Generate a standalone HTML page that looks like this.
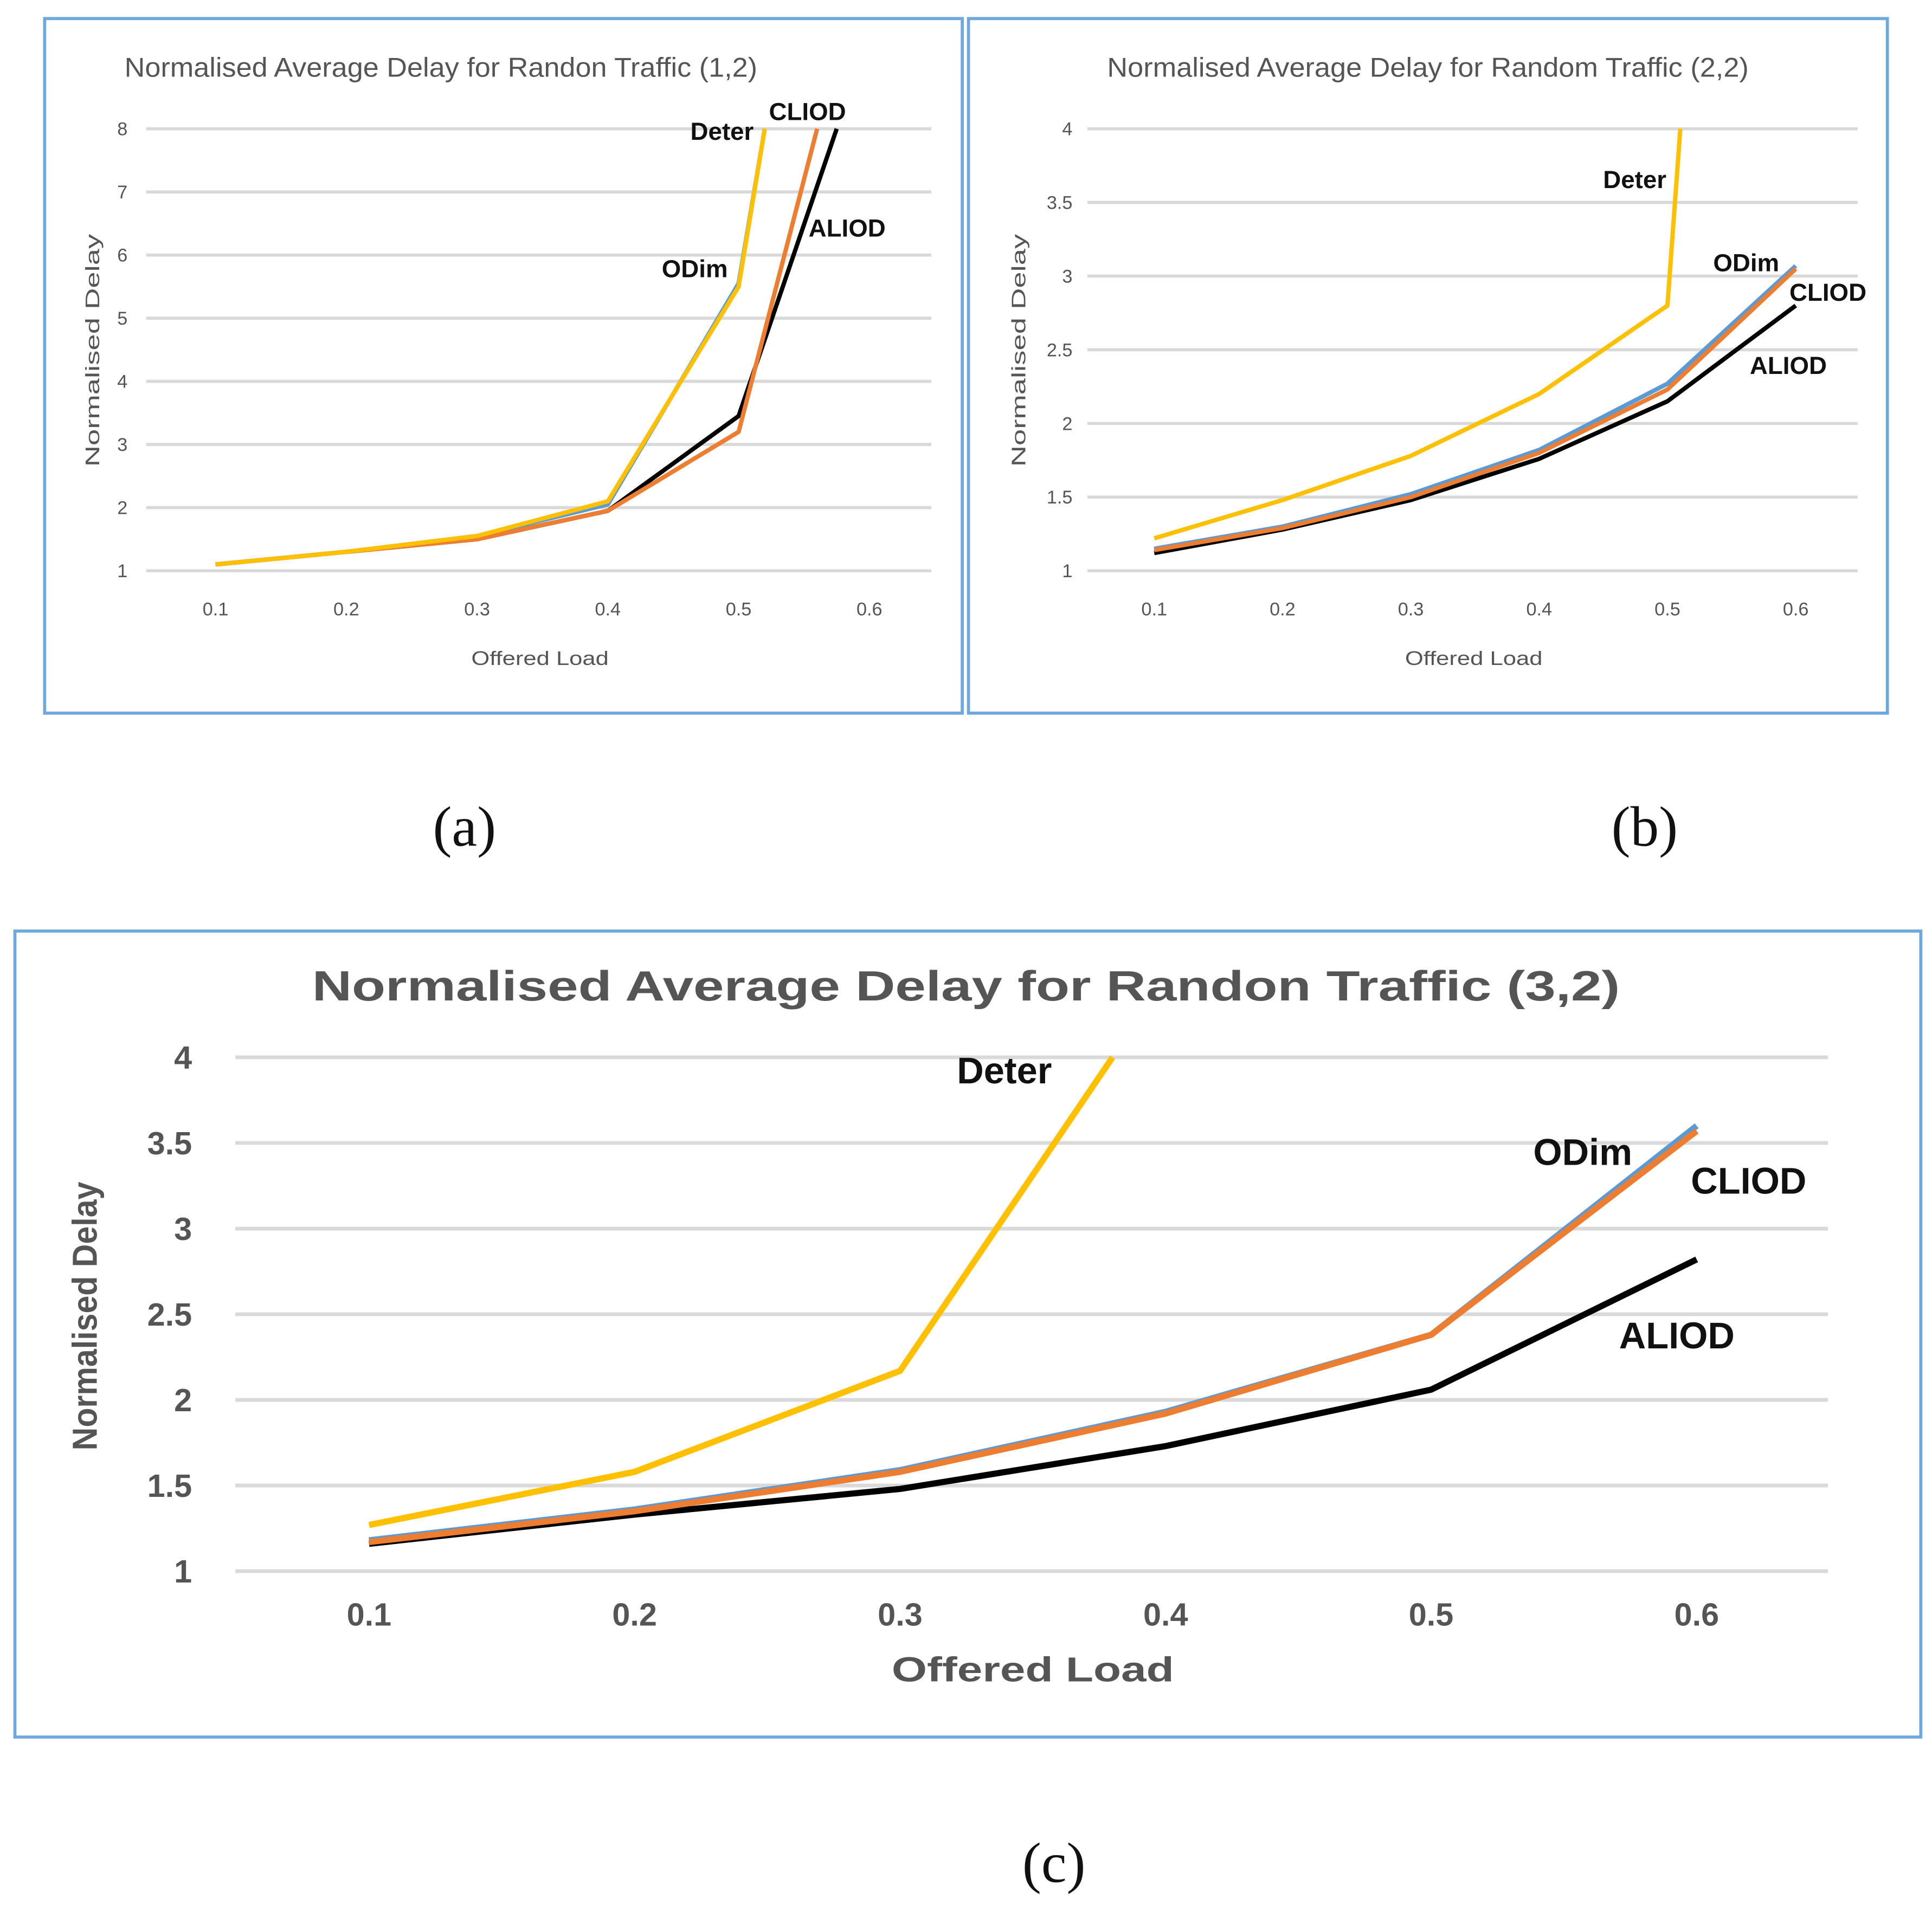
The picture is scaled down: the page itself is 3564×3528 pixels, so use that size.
<!DOCTYPE html>
<html><head><meta charset="utf-8"><style>
html,body{margin:0;padding:0;background:#fff;}
svg{display:block;}
text{font-family:"Liberation Sans Narrow","Liberation Sans",sans-serif;}
.cap{font-family:"Liberation Serif",serif;}
</style></head><body>
<svg id="fig" width="3564" height="3528" viewBox="0 0 1560 1544.3" xmlns="http://www.w3.org/2000/svg">
<rect x="0" y="0" width="1560" height="1545" fill="#fff"/>
<text class="cap" x="375" y="683" font-size="46" text-anchor="middle" fill="#111">(a)</text>
<text class="cap" x="1328" y="683" font-size="46" text-anchor="middle" fill="#111">(b)</text>
<text class="cap" x="851" y="1520" font-size="46" text-anchor="middle" fill="#111">(c)</text>
</svg>
<script>
// ---- data ----
const seriesNames = ['Deter','ODim','CLIOD','ALIOD'];
const seriesColors = {Deter:'#FFC000',ODim:'#5B9BD5',CLIOD:'#ED7D31',ALIOD:'#000000'};
// Panel A
const aXTicks = [0.1,0.2,0.3,0.4,0.5,0.6];
const aYTicks = [1,2,3,4,5,6,7,8];
const aDeterX = [0.1,0.2,0.3,0.4,0.5,0.52];
const aDeterY = [1.1,1.3,1.55,2.1,5.5,8];
const aODimX = [0.1,0.2,0.3,0.4,0.5,0.52];
const aODimY = [1.1,1.3,1.55,2.05,5.55,8];
const aCLIODX = [0.1,0.2,0.3,0.4,0.5,0.56];
const aCLIODY = [1.1,1.3,1.5,1.95,3.2,8];
const aALIODX = [0.1,0.2,0.3,0.4,0.5,0.575];
const aALIODY = [1.1,1.3,1.5,1.95,3.45,8];
// Panel B
const bXTicks = [0.1,0.2,0.3,0.4,0.5,0.6];
const bYTicks = [1,1.5,2,2.5,3,3.5,4];
const bDeterX = [0.1,0.2,0.3,0.4,0.5,0.51];
const bDeterY = [1.22,1.48,1.78,2.2,2.8,4];
const bODimX = [0.1,0.2,0.3,0.4,0.5,0.6];
const bODimY = [1.15,1.3,1.52,1.82,2.27,3.07];
const bCLIODX = [0.1,0.2,0.3,0.4,0.5,0.6];
const bCLIODY = [1.14,1.29,1.5,1.8,2.23,3.05];
const bALIODX = [0.1,0.2,0.3,0.4,0.5,0.6];
const bALIODY = [1.12,1.28,1.48,1.76,2.15,2.8];
// Panel C
const cXTicks = [0.1,0.2,0.3,0.4,0.5,0.6];
const cYTicks = [1,1.5,2,2.5,3,3.5,4];
const cDeterX = [0.1,0.2,0.3,0.38];
const cDeterY = [1.27,1.58,2.17,4];
const cODimX = [0.1,0.2,0.3,0.4,0.5,0.6];
const cODimY = [1.18,1.36,1.59,1.93,2.38,3.6];
const cCLIODX = [0.1,0.2,0.3,0.4,0.5,0.6];
const cCLIODY = [1.17,1.35,1.58,1.92,2.38,3.57];
const cALIODX = [0.1,0.2,0.3,0.4,0.5,0.6];
const cALIODY = [1.16,1.33,1.48,1.73,2.06,2.82];

const NS='http://www.w3.org/2000/svg';
const svg=document.getElementById('fig');
function mk(tag,attrs,parent){const e=document.createElementNS(NS,tag);for(const k in attrs)e.setAttribute(k,attrs[k]);(parent||svg).appendChild(e);return e;}
function fmt(v){return String(v);}

function panel(id,L){
  const g=mk('g',{});
  
  
  const box=mk('rect',{x:L.bx,y:L.by,width:L.bw,height:L.bh,fill:'#fff',stroke:'#6FA8DC','stroke-width':2.5},g);
  
  
  const x0=L.xTicks[0], x1=L.xTicks[L.xTicks.length-1];
  const y0=L.yTicks[0], y1=L.yTicks[L.yTicks.length-1];
  const sx=v=>L.px0+(v-x0)/(x1-x0)*(L.px1-L.px0);
  const sy=v=>L.py0+(v-y0)/(y1-y0)*(L.py1-L.py0);
  L.yTicks.forEach(t=>{
    const ln=mk('line',{x1:L.gx0,x2:L.gx1,y1:sy(t),y2:sy(t),stroke:'#d9d9d9','stroke-width':L.gw},g);
    
    
    const tx=mk('text',{x:L.ylx,y:sy(t)+L.fs*0.35,'font-size':L.fs,'text-anchor':'end',fill:'#555','font-weight':L.fw},g);
    tx.textContent=fmt(t);
    
    
  });
  L.xTicks.forEach(t=>{
    const tx=mk('text',{x:sx(t),y:L.xly,'font-size':L.fs,'text-anchor':'middle',fill:'#555','font-weight':L.fw},g);
    tx.textContent=fmt(t);
    
    
  });
  const title=mk('text',{x:L.tx,y:L.ty,'font-size':L.tfs,'text-anchor':'middle',fill:'#555','font-weight':L.fw,textLength:L.tlen,lengthAdjust:'spacingAndGlyphs'},g);
  title.textContent=L.title;
  
  
  const xt=mk('text',{x:L.xtx,y:L.xty,'font-size':L.afs,'text-anchor':'middle',fill:'#555','font-weight':L.fw,textLength:L.xlen,lengthAdjust:'spacingAndGlyphs'},g);
  xt.textContent='Offered Load';
  
  
  const yt=mk('text',{x:0,y:0,'font-size':L.afs,'text-anchor':'middle',fill:'#555','font-weight':L.fw,textLength:L.ylen,lengthAdjust:'spacingAndGlyphs',transform:'translate('+L.ytx+','+L.yty+') rotate(-90)'},g);
  yt.textContent='Normalised Delay';
  
  
  ['ALIOD','ODim','CLIOD','Deter'].forEach(n=>{
    const xs=L.data[n][0], ys=L.data[n][1];
    const pts=xs.map((v,i)=>sx(v).toFixed(1)+','+sy(ys[i]).toFixed(1)).join(' ');
    const pl=mk('polyline',{points:pts,fill:'none',stroke:seriesColors[n],'stroke-width':L.lw,'stroke-linejoin':'round'},g);
    
    
  });
  L.labels.forEach(lb=>{
    const tx=mk('text',{x:lb[1],y:lb[2],'font-size':L.lfs,'font-weight':'bold',fill:'#111','text-anchor':'middle'},g);
    tx.textContent=lb[0];
    
    
  });
}

panel('panel-a',{bx:36,by:15,bw:741,bh:561,px0:174,px1:702,py0:461,py1:104,gx0:118,gx1:752,gw:2.5,
  xTicks:aXTicks,yTicks:aYTicks,ylx:103,xly:497,fs:15,fw:'normal',
  title:'Normalised Average Delay for Randon Traffic (1,2)',tx:356,ty:62,tfs:22,tlen:511,
  xtx:436,xty:537,xlen:111,ytx:80,yty:283,ylen:188,afs:16,lw:3.5,lfs:20,
  data:{Deter:[aDeterX,aDeterY],ODim:[aODimX,aODimY],CLIOD:[aCLIODX,aCLIODY],ALIOD:[aALIODX,aALIODY]},
  labels:[['Deter',583,113],['CLIOD',652,97],['ODim',561,224],['ALIOD',684,191]]});

panel('panel-b',{bx:782,by:15,bw:742,bh:561,px0:932,px1:1450,py0:461,py1:104,gx0:878,gx1:1500,gw:2.5,
  xTicks:bXTicks,yTicks:bYTicks,ylx:866,xly:497,fs:15,fw:'normal',
  title:'Normalised Average Delay for Random Traffic (2,2)',tx:1153,ty:62,tfs:22,tlen:518,
  xtx:1190,xty:537,xlen:111,ytx:828,yty:283,ylen:188,afs:16,lw:3.5,lfs:20,
  data:{Deter:[bDeterX,bDeterY],ODim:[bODimX,bODimY],CLIOD:[bCLIODX,bCLIODY],ALIOD:[bALIODX,bALIODY]},
  labels:[['Deter',1320,152],['ODim',1410,219],['CLIOD',1476,243],['ALIOD',1444,302]]});

panel('panel-c',{bx:12,by:752,bw:1539,bh:651,px0:298,px1:1370,py0:1269,py1:854,gx0:190,gx1:1476,gw:3,
  xTicks:cXTicks,yTicks:cYTicks,ylx:155,xly:1313,fs:26,fw:'bold',
  title:'Normalised Average Delay for Randon Traffic (3,2)',tx:780,ty:808,tfs:34,tlen:1056,
  xtx:834,xty:1358,xlen:228,ytx:78,yty:1063,ylen:217,afs:28,lw:5,lfs:30,
  data:{Deter:[cDeterX,cDeterY],ODim:[cODimX,cODimY],CLIOD:[cCLIODX,cCLIODY],ALIOD:[cALIODX,cALIODY]},
  labels:[['Deter',811,875],['ODim',1278,941],['CLIOD',1412,964],['ALIOD',1354,1089]]});
</script>
</body></html>
